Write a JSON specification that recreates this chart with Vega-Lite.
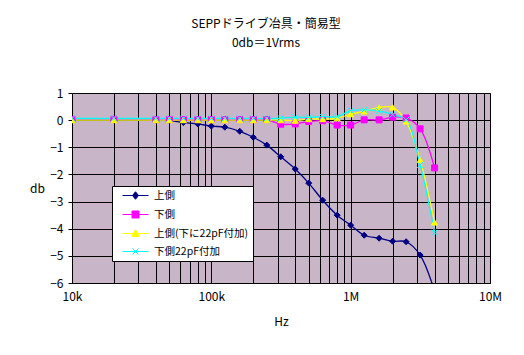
{
  "$schema": "https://vega.github.io/schema/vega-lite/v6.json",
  "width": 418,
  "height": 190,
  "autosize": {"type": "none"},
  "padding": {"left": 72, "top": 93, "right": 34, "bottom": 72},
  "background": "white",
  "title": {
    "text": ["SEPPドライブ冶具・簡易型", "0db＝1Vrms"],
    "font": "Noto Sans CJK JP",
    "fontSize": 12,
    "fontWeight": "normal",
    "color": "black",
    "lineHeight": 19,
    "anchor": "middle",
    "frame": "group",
    "offset": 37,
    "dx": -15
  },
  "data": {
    "values": [
      {"f": 10000, "s": "上側", "db": 0},
      {"f": 20000, "s": "上側", "db": 0},
      {"f": 40000, "s": "上側", "db": 0},
      {"f": 50000, "s": "上側", "db": -0.02},
      {"f": 63000, "s": "上側", "db": -0.09},
      {"f": 80000, "s": "上側", "db": -0.14},
      {"f": 100000, "s": "上側", "db": -0.22},
      {"f": 125000, "s": "上側", "db": -0.26},
      {"f": 160000, "s": "上側", "db": -0.41},
      {"f": 200000, "s": "上側", "db": -0.63},
      {"f": 250000, "s": "上側", "db": -0.92},
      {"f": 315000, "s": "上側", "db": -1.35},
      {"f": 400000, "s": "上側", "db": -1.8},
      {"f": 500000, "s": "上側", "db": -2.32},
      {"f": 630000, "s": "上側", "db": -2.95},
      {"f": 800000, "s": "上側", "db": -3.5},
      {"f": 1000000, "s": "上側", "db": -3.87},
      {"f": 1250000, "s": "上側", "db": -4.24},
      {"f": 1600000, "s": "上側", "db": -4.35},
      {"f": 2000000, "s": "上側", "db": -4.46},
      {"f": 2500000, "s": "上側", "db": -4.48},
      {"f": 3150000, "s": "上側", "db": -4.97},
      {"f": 4000000, "s": "上側", "db": -6.3},
      {"f": 10000, "s": "下側", "db": 0.03},
      {"f": 20000, "s": "下側", "db": 0.03},
      {"f": 40000, "s": "下側", "db": 0.02},
      {"f": 50000, "s": "下側", "db": 0.02},
      {"f": 63000, "s": "下側", "db": 0.02},
      {"f": 80000, "s": "下側", "db": 0.02},
      {"f": 100000, "s": "下側", "db": 0.02},
      {"f": 125000, "s": "下側", "db": 0.02},
      {"f": 160000, "s": "下側", "db": 0.02},
      {"f": 200000, "s": "下側", "db": 0.02},
      {"f": 250000, "s": "下側", "db": 0.02},
      {"f": 315000, "s": "下側", "db": -0.15},
      {"f": 400000, "s": "下側", "db": -0.14},
      {"f": 500000, "s": "下側", "db": -0.05},
      {"f": 630000, "s": "下側", "db": -0.02},
      {"f": 800000, "s": "下側", "db": -0.18},
      {"f": 1000000, "s": "下側", "db": -0.18},
      {"f": 1250000, "s": "下側", "db": 0.01},
      {"f": 1600000, "s": "下側", "db": 0.01},
      {"f": 2000000, "s": "下側", "db": 0.11},
      {"f": 2500000, "s": "下側", "db": 0.08},
      {"f": 3150000, "s": "下側", "db": -0.32},
      {"f": 4000000, "s": "下側", "db": -1.76},
      {"f": 10000, "s": "上側(下に22pF付加)", "db": 0},
      {"f": 20000, "s": "上側(下に22pF付加)", "db": 0},
      {"f": 40000, "s": "上側(下に22pF付加)", "db": 0},
      {"f": 50000, "s": "上側(下に22pF付加)", "db": 0},
      {"f": 63000, "s": "上側(下に22pF付加)", "db": 0},
      {"f": 80000, "s": "上側(下に22pF付加)", "db": 0},
      {"f": 100000, "s": "上側(下に22pF付加)", "db": 0},
      {"f": 125000, "s": "上側(下に22pF付加)", "db": 0},
      {"f": 160000, "s": "上側(下に22pF付加)", "db": 0},
      {"f": 200000, "s": "上側(下に22pF付加)", "db": 0},
      {"f": 250000, "s": "上側(下に22pF付加)", "db": 0},
      {"f": 315000, "s": "上側(下に22pF付加)", "db": 0},
      {"f": 400000, "s": "上側(下に22pF付加)", "db": -0.02},
      {"f": 500000, "s": "上側(下に22pF付加)", "db": 0.04},
      {"f": 630000, "s": "上側(下に22pF付加)", "db": 0.04},
      {"f": 800000, "s": "上側(下に22pF付加)", "db": 0.07},
      {"f": 1000000, "s": "上側(下に22pF付加)", "db": 0.22},
      {"f": 1250000, "s": "上側(下に22pF付加)", "db": 0.32},
      {"f": 1600000, "s": "上側(下に22pF付加)", "db": 0.47},
      {"f": 2000000, "s": "上側(下に22pF付加)", "db": 0.47},
      {"f": 2500000, "s": "上側(下に22pF付加)", "db": -0.05},
      {"f": 3150000, "s": "上側(下に22pF付加)", "db": -1.47},
      {"f": 4000000, "s": "上側(下に22pF付加)", "db": -3.77},
      {"f": 10000, "s": "下側22pF付加", "db": 0.06},
      {"f": 20000, "s": "下側22pF付加", "db": 0.06},
      {"f": 40000, "s": "下側22pF付加", "db": 0.06},
      {"f": 50000, "s": "下側22pF付加", "db": 0.06},
      {"f": 63000, "s": "下側22pF付加", "db": 0.06},
      {"f": 80000, "s": "下側22pF付加", "db": 0.06},
      {"f": 100000, "s": "下側22pF付加", "db": 0.06},
      {"f": 125000, "s": "下側22pF付加", "db": 0.06},
      {"f": 160000, "s": "下側22pF付加", "db": 0.06},
      {"f": 200000, "s": "下側22pF付加", "db": 0.06},
      {"f": 250000, "s": "下側22pF付加", "db": 0.06},
      {"f": 315000, "s": "下側22pF付加", "db": 0.07},
      {"f": 400000, "s": "下側22pF付加", "db": 0.11},
      {"f": 500000, "s": "下側22pF付加", "db": 0.1},
      {"f": 630000, "s": "下側22pF付加", "db": 0.13},
      {"f": 800000, "s": "下側22pF付加", "db": 0.13},
      {"f": 1000000, "s": "下側22pF付加", "db": 0.35},
      {"f": 1250000, "s": "下側22pF付加", "db": 0.38},
      {"f": 1600000, "s": "下側22pF付加", "db": 0.34},
      {"f": 2000000, "s": "下側22pF付加", "db": 0.2},
      {"f": 2500000, "s": "下側22pF付加", "db": 0.01},
      {"f": 3150000, "s": "下側22pF付加", "db": -1.65},
      {"f": 4000000, "s": "下側22pF付加", "db": -4.15}
    ]
  },
  "encoding": {
    "x": {
      "field": "f",
      "type": "quantitative",
      "scale": {"type": "log", "domain": [10000, 10000000], "nice": false},
      "axis": {
        "values": [10000, 20000, 30000, 40000, 50000, 60000, 70000, 80000, 90000, 100000, 200000, 300000, 400000, 500000, 600000, 700000, 800000, 900000, 1000000, 2000000, 3000000, 4000000, 5000000, 6000000, 7000000, 8000000, 9000000, 10000000],
        "labelExpr": "datum.value == 10000 ? '10k' : datum.value == 100000 ? '100k' : datum.value == 1000000 ? '1M' : datum.value == 10000000 ? '10M' : ''",
        "title": "Hz",
        "tickSize": 0,
        "labelPadding": 8,
        "titlePadding": 14,
        "labelOverlap": false,
        "labelFlush": false,
        "labelBound": false
      }
    },
    "y": {
      "field": "db",
      "type": "quantitative",
      "scale": {"domain": [-6, 1], "nice": false, "zero": false},
      "axis": {
        "values": [-6, -5, -4, -3, -2, -1, 0, 1],
        "format": "d",
        "title": "db",
        "titleAngle": 0,
        "titleX": -35,
        "titleY": 95,
        "titleAlign": "center",
        "titleBaseline": "middle",
        "tickSize": 4,
        "labelPadding": 5
      }
    }
  },
  "layer": [
    {
      "mark": {"type": "line", "interpolate": "catmull-rom", "strokeWidth": 1.3, "clip": true},
      "encoding": {
        "color": {
          "field": "s",
          "type": "nominal",
          "scale": {
            "domain": ["上側", "下側", "上側(下に22pF付加)", "下側22pF付加"],
            "range": ["#000080", "#FF00FF", "#FFFF00", "#00FFFF"]
          },
          "legend": {
            "orient": "none",
            "legendX": 40,
            "legendY": 93,
            "title": null,
            "strokeColor": "black",
            "fillColor": "white",
            "padding": 4,
            "symbolSize": 100,
            "symbolOffset": 14,
            "labelOffset": 13,
            "rowPadding": 7,
            "labelFont": "Noto Sans CJK JP",
            "labelFontSize": 10.5,
            "labelColor": "black",
            "labelLimit": 0,
            "symbolStrokeWidth": 1,
            "encode": {
              "symbols": {
                "update": {
                  "shape": {"signal": "datum.value === '上側' ? 'M-2.6,0H2.6M0,-0.75L0.6,0L0,0.75L-0.6,0Z' : datum.value === '下側' ? 'M-2.6,0H2.6M-0.7,-0.7H0.7V0.7H-0.7Z' : datum.value === '上側(下に22pF付加)' ? 'M-2.6,0H2.6M0,-0.75L0.75,0.6H-0.75Z' : 'M-2.6,0H2.6M-0.6,-0.6L0.6,0.6M-0.6,0.6L0.6,-0.6'"},
                  "fill": {"signal": "datum.value === '上側' ? '#000080' : datum.value === '下側' ? '#FF00FF' : datum.value === '上側(下に22pF付加)' ? '#FFFF00' : '#00FFFF'"},
                  "stroke": {"signal": "datum.value === '上側' ? '#000080' : datum.value === '下側' ? '#FF00FF' : datum.value === '上側(下に22pF付加)' ? '#FFFF00' : '#00FFFF'"},
                  "strokeWidth": {"value": 1},
                  "opacity": {"value": 1},
                  "fillOpacity": {"value": 1}
                }
              }
            }
          }
        }
      }
    },
    {
      "mark": {"type": "point", "size": 36, "strokeWidth": 1, "opacity": 1, "fillOpacity": 1, "clip": true},
      "encoding": {
        "fill": {
          "field": "s",
          "type": "nominal",
          "scale": {
            "domain": ["上側", "下側", "上側(下に22pF付加)", "下側22pF付加"],
            "range": ["#000080", "#FF00FF", "#FFFF00", "#00FFFF"]
          },
          "legend": null
        },
        "stroke": {
          "field": "s",
          "type": "nominal",
          "scale": {
            "domain": ["上側", "下側", "上側(下に22pF付加)", "下側22pF付加"],
            "range": ["#000080", "#FF00FF", "#FFFF00", "#00FFFF"]
          },
          "legend": null
        },
        "shape": {
          "field": "s",
          "type": "nominal",
          "scale": {
            "domain": ["上側", "下側", "上側(下に22pF付加)", "下側22pF付加"],
            "range": ["diamond", "square", "triangle-up", "M-1,-1L1,1M-1,1L1,-1"]
          },
          "legend": null
        }
      }
    }
  ],
  "resolve": {
    "legend": {"color": "independent", "fill": "independent", "stroke": "independent", "shape": "independent"}
  },
  "config": {
    "font": "Noto Sans CJK JP",
    "view": {"stroke": "#808080", "fill": "#C8B6C8"},
    "axis": {
      "labelFont": "Noto Sans CJK JP",
      "titleFont": "Noto Sans CJK JP",
      "labelFontSize": 12,
      "titleFontSize": 12,
      "titleFontWeight": "normal",
      "labelColor": "black",
      "titleColor": "black",
      "domainColor": "black",
      "domainWidth": 1,
      "tickColor": "black",
      "gridColor": "black",
      "gridOpacity": 1,
      "gridWidth": 1
    }
  }
}
